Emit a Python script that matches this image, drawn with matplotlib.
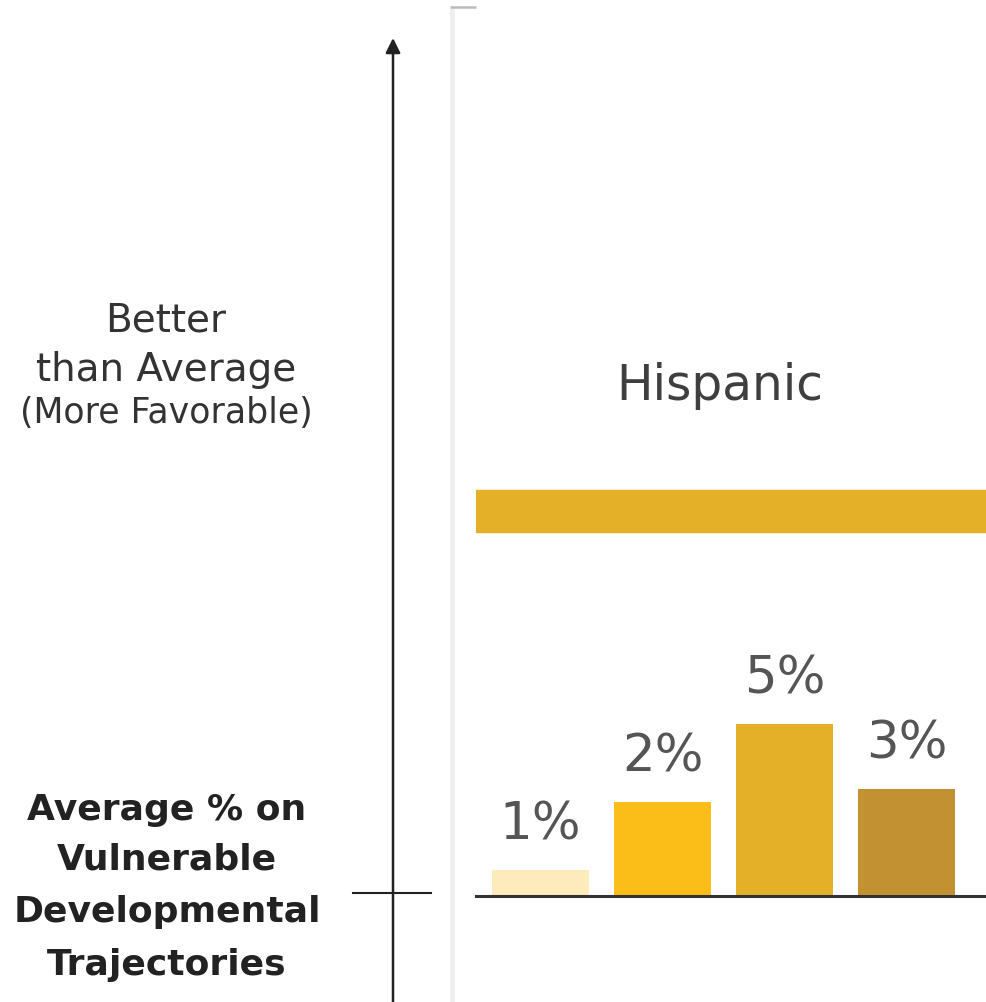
import matplotlib
matplotlib.use("Agg")
import matplotlib.pyplot as plt

# data
bar_labels = ["1%", "2%", "5%", "3%"]
bar_heights = [0.76, 2.73, 5.0, 3.11]
bar_colors = ["#FDEBBC", "#FBBD17", "#E3B027", "#C29132"]
group_name = "Hispanic"
band_range = (10.58, 11.80)  # the wide gold band above the bars
upper_text = ["Better", "than Average", "(More Favorable)"]
lower_text = ["Average % on", "Vulnerable", "Developmental", "Trajectories"]

W, H = 986, 1002
fig = plt.figure(figsize=(W / 100, H / 100), dpi=100)

# overlay axes in pixel coords for the decorations
deco = fig.add_axes([0, 0, 1, 1])
deco.set_xlim(0, W)
deco.set_ylim(H, 0)
deco.axis("off")

# bar axes: baseline at y=896 px, spans x 476..986
base_px = 896
top_px = 40
left_px = 476
ax = fig.add_axes([left_px / W, (H - base_px) / H, (W - left_px) / W, (base_px - top_px) / H])
px_per_unit = 34.4
ax.set_ylim(0, (base_px - top_px) / px_per_unit)
step = 122.0
x0 = -(540.5 - left_px) / step
ax.set_xlim(x0, x0 + (W - left_px) / step)

xs = list(range(len(bar_heights)))
ax.bar(xs, bar_heights, width=0.8, color=bar_colors, zorder=2)
for x, h, lab in zip(xs, bar_heights, bar_labels):
    ax.annotate(lab, (x, h), xytext=(0, 14), textcoords="offset points",
                ha="center", va="bottom", fontsize=37, color="#555555",
                family="DejaVu Sans")

ax.axhspan(band_range[0], band_range[1], color="#E3B027", zorder=1)
ax.text(0.478, 1.0 - (386 - top_px) / (base_px - top_px), group_name, transform=ax.transAxes,
        ha="center", va="center", fontsize=35, color="#3f3f3f",
        family="DejaVu Sans")

for side in ["top", "right", "left"]:
    ax.spines[side].set_visible(False)
ax.spines["bottom"].set_color("#333333")
ax.spines["bottom"].set_linewidth(2.2)
ax.set_xticks([])
ax.set_yticks([])
ax.patch.set_alpha(0)

# axis arrow and tick mark
deco.annotate("", xy=(393, 38), xytext=(393, H + 5),
              arrowprops=dict(arrowstyle="-|>", color="#222222", lw=1.8,
                              mutation_scale=22, shrinkA=0, shrinkB=0))
deco.plot([353, 431], [893, 893], color="#222222", lw=1.5)

# light separator at panel edge
deco.plot([452, 452], [8, H], color="#EEEEEE", lw=3.5, solid_capstyle="butt")
deco.plot([450, 476], [7, 7], color="#BBBBBB", lw=1.8, solid_capstyle="butt")

for y, s, fs in zip([320, 370, 413], upper_text, [28, 28, 25]):
    deco.text(166, y, s, ha="center", va="center", fontsize=fs, color="#333333",
              family="DejaVu Sans")

for y, s in zip([810, 860, 912, 965], lower_text):
    deco.text(167, y, s, ha="center", va="center", fontsize=26, color="#222222",
              family="DejaVu Sans", fontweight="bold")

fig.savefig("out.png", dpi=100)
